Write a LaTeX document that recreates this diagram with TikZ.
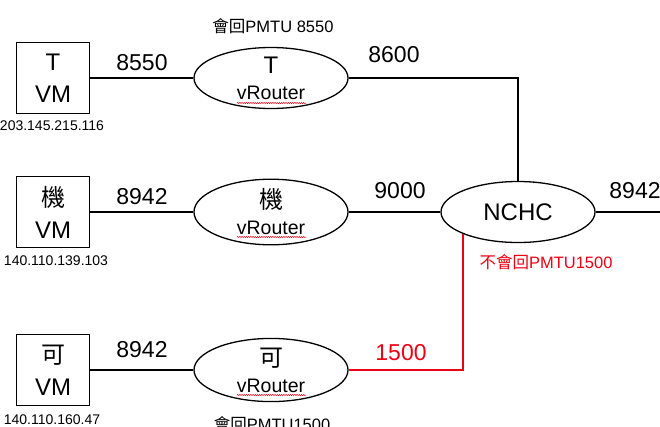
\documentclass[tikz,border=0pt]{standalone}
\usepackage{fontspec}
\setmainfont{Liberation Sans}
\newfontfamily\cjk{Noto Sans CJK TC}
\usetikzlibrary{shapes.geometric,calc,positioning,decorations.pathmorphing}
\definecolor{warnred}{RGB}{238,0,20}
\newcommand{\rtop}[1]{{\fontsize{24}{26}\selectfont #1}}

\begin{document}
\begin{tikzpicture}[x=1pt,y=-1pt,
  vm/.style = {draw, line width=1.6pt, minimum width=73pt, minimum height=71pt, inner sep=0pt, align=center, font=\fontsize{24}{32}\selectfont},
  router/.style = {draw, ellipse, line width=1.3pt, minimum width=154pt, minimum height=61pt, inner sep=0pt, align=center, font=\fontsize{19.5}{26}\selectfont},
  mtu/.style = {font=\fontsize{23}{26}\selectfont},
  ip/.style = {font=\fontsize{14}{16}\selectfont},
  note/.style = {font=\fontsize{16.5}{18}\selectfont},
  link/.style = {line width=1.4pt},
  squig/.style = {warnred, line width=0.5pt, decorate, decoration={snake, amplitude=0.6pt, segment length=2.2pt}},]
\useasboundingbox (0,0) rectangle (660,426);
% VMs
\node (tvm) at (53,78) [vm] {T\\VM};
\node (jvm) at (53,212) [vm] {{\cjk 機}\\VM};
\node (kvm) at (53,370) [vm] {{\cjk 可}\\VM};
\node (tip) at (52,126) [ip] {203.145.215.116};
\node (jip) at (56,261) [ip] {140.110.139.103};
\node (kip) at (52,419.5) [ip] {140.110.160.47};
% vRouters
\node (tvr) at (271,78) [router] {\rtop{T}\\vRouter};
\node (jvr) at (271,212) [router] {\rtop{\cjk 機}\\vRouter};
\node (kvr) at (271,370) [router] {\rtop{\cjk 可}\\vRouter};
\node (nchc) at (518,212) [router, font=\fontsize{24}{26}\selectfont] {NCHC};
\coordinate (out) at (660,212);
\draw[squig] ($(tvr)+(-34,25)$) -- ($(tvr)+(35,25)$);
\draw[squig] ($(jvr)+(-34,25)$) -- ($(jvr)+(35,25)$);
\draw[squig] ($(kvr)+(-34,25)$) -- ($(kvr)+(35,25)$);
% links
\draw[link] (tvm) -- (tvr);
\draw[link] (jvm) -- (jvr);
\draw[link] (kvm) -- (kvr);
\draw[link] (tvr) -| (nchc);
\draw[link] (jvr) -- (nchc);
\draw[link] (nchc) -- (out);
\draw[link, warnred, line width=1.6pt] (kvr) -| (nchc.202);
% MTU values
\node (m1) at (142,63) [mtu] {8550};
\node (m2) at (142,197) [mtu] {8942};
\node (m3) at (142,350) [mtu] {8942};
\node (m4) at (394,55) [mtu] {8600};
\node (m5) at (400,191) [mtu] {9000};
\node (m6) at (635,191) [mtu] {8942};
\node (m7) at (401,353) [mtu, warnred] {1500};
% notes
\node (p1) at (273,26) [note] {{\cjk 會回}PMTU 8550};
\node (p2) at (546,262) [note, warnred] {{\cjk 不會回}PMTU1500};
\node (p3) at (272,424) [note] {{\cjk 會回}PMTU1500};
\end{tikzpicture}
\end{document}
